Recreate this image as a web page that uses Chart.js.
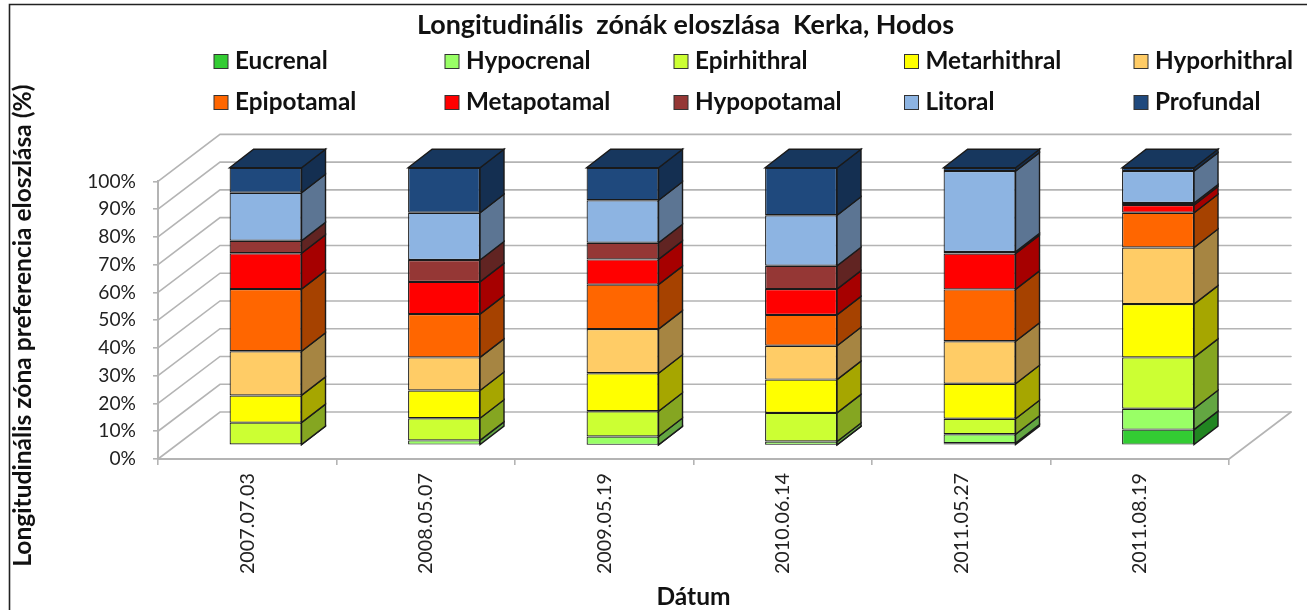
<!DOCTYPE html>
<html>
<head>
<meta charset="utf-8">
<style>
html,body{margin:0;padding:0;background:#fff;overflow:hidden}
#wrap{position:relative;width:1307px;height:610px}
canvas{display:block;filter:blur(0.4px)}
</style>
<script src="https://cdn.jsdelivr.net/npm/chart.js@4/dist/chart.umd.min.js"></script>
</head>
<body>
<div id="wrap"><canvas id="c" width="1307" height="610"></canvas></div>
<script>
const categories = ['2007.07.03','2008.05.07','2009.05.19','2010.06.14','2011.05.27','2011.08.19'];
const Eucrenal     = [0,    0,    0.2,  0.2,  0.8,  5.7];
const Hypocrenal   = [0.3,  1.8,  3.0,  1.2,  3.2,  7.5];
const Epirhithral  = [7.9,  8.0,  9.1,  10.3, 5.6,  18.5];
const Metarhithral = [9.8,  10.0, 13.7, 12.0, 12.6, 19.2];
const Hyporhithral = [15.9, 11.9, 15.9, 12.2, 15.3, 20.4];
const Epipotamal   = [22.4, 15.6, 16.0, 11.1, 18.7, 12.5];
const Metapotamal  = [12.9, 11.6, 9.1,  9.3,  12.9, 2.8];
const Hypopotamal  = [4.5,  7.9,  6.0,  8.4,  0.6,  0.7];
const Litoral      = [17.3, 17.0, 15.3, 18.2, 29.1, 11.5];
const Profundal    = [9.0,  16.2, 11.7, 17.1, 1.2,  1.2];
const seriesNames  = ['Eucrenal','Hypocrenal','Epirhithral','Metarhithral','Hyporhithral','Epipotamal','Metapotamal','Hypopotamal','Litoral','Profundal'];
const seriesValues = [Eucrenal,Hypocrenal,Epirhithral,Metarhithral,Hyporhithral,Epipotamal,Metapotamal,Hypopotamal,Litoral,Profundal];
const seriesColors = ['#33CC33','#99FF66','#CCFF33','#FFFF00','#FFCC66','#FF6600','#FF0000','#953735','#8DB4E2','#1F497D'];
const titleText = 'Longitudinális  zónák eloszlása  Kerka, Hodos';
const yTitle = 'Longitudinális zóna preferencia eloszlása (%)';
const xTitle = 'Dátum';

const FONT = 'Lato, Carlito, "Open Sans", sans-serif';
const GRID = '#b4b4b4';
// 3D geometry
const WALL = {dx:62, dy:47};      // depth of the back wall
const BAR_OFF = {dx:18.3, dy:13.6}; // bars stand inside the floor
const BAR_D = {dx:24, dy:18.5};   // depth of a bar
const LEG_X = [213.5,444.5,673.5,904,1133.5];
const LEG_Y = [61.5,102.5];

function shade(hex,f){
  const n=parseInt(hex.slice(1),16);
  const c=[n>>16&255,n>>8&255,n&255].map(v=>Math.round(v*f));
  return 'rgb('+c.join(',')+')';
}
function poly(ctx,pts,fill,stroke){
  ctx.beginPath();
  pts.forEach((p,i)=>i?ctx.lineTo(p[0],p[1]):ctx.moveTo(p[0],p[1]));
  ctx.closePath();
  ctx.fillStyle=fill;ctx.fill();
  ctx.strokeStyle=stroke;ctx.lineWidth=1.4;ctx.stroke();
}

const scene3d = {
  id:'scene3d',
  afterLayout(chart){
    // title is centred over the right-hand part of the frame
    chart.titleBlock.left = 64;
    chart.titleBlock.right = chart.width;
    const y = chart.scales.y;
    if(!y._shifted){
      const orig = y.drawTitle;
      y.drawTitle = function(){
        const c=this.ctx;c.save();c.translate(0,5.5);orig.call(this);c.restore();
      };
      y._shifted = true;
    }
  },
  beforeDraw(chart){
    const c=chart.ctx;
    c.save();
    c.fillStyle='#fff';c.fillRect(0,0,chart.width,chart.height);
    c.strokeStyle='#222';c.lineWidth=1.6;
    c.beginPath();c.moveTo(9.5,chart.height+2);c.lineTo(9.5,4.5);c.lineTo(chart.width+2,4.5);c.stroke();
    c.restore();
  },
  beforeDatasetsDraw(chart){
    const c=chart.ctx,{x,y}=chart.scales,a=chart.chartArea;
    c.save();
    c.strokeStyle=GRID;c.lineWidth=1.6;c.lineCap='round';
    y.ticks.forEach((t,i)=>{
      const py=y.getPixelForTick(i);
      c.beginPath();
      c.moveTo(a.left,py);
      c.lineTo(a.left+WALL.dx,py-WALL.dy);
      c.lineTo(a.right+WALL.dx,py-WALL.dy);
      c.stroke();
    });
    c.beginPath();
    c.moveTo(a.right,a.bottom);
    c.lineTo(a.right+WALL.dx,a.bottom-WALL.dy);
    c.stroke();
    c.restore();
    // bars: side and top faces, the library then paints the front faces in the same shifted frame
    c.save();
    c.translate(BAR_OFF.dx,-BAR_OFF.dy);
    const metas=chart.getSortedVisibleDatasetMetas();
    metas.forEach(m=>{
      const col=chart.data.datasets[m.index].backgroundColor;
      m.data.forEach((b,j)=>{
        const v=chart.data.datasets[m.index].data[j];
        if(!v) return;
        const r=b.x+b.width/2;
        poly(c,[[r,b.y],[r+BAR_D.dx,b.y-BAR_D.dy],[r+BAR_D.dx,b.base-BAR_D.dy],[r,b.base]],shade(col,0.65),'#1a1a1a');
      });
    });
    categories.forEach((_,j)=>{
      for(let k=metas.length-1;k>=0;k--){
        const ds=chart.data.datasets[metas[k].index];
        if(ds.data[j]){
          const b=metas[k].data[j],l=b.x-b.width/2,r=b.x+b.width/2;
          poly(c,[[l,b.y],[l+BAR_D.dx,b.y-BAR_D.dy],[r+BAR_D.dx,b.y-BAR_D.dy],[r,b.y]],shade(ds.backgroundColor,0.75),'#1a1a1a');
          break;
        }
      }
    });
  },
  afterDatasetsDraw(chart){
    chart.ctx.restore();
    const c=chart.ctx;
    c.save();
    c.font='bold 24.3px '+FONT;
    c.textBaseline='middle';
    chart.data.datasets.forEach((ds,i)=>{
      const px=LEG_X[i%5],py=LEG_Y[Math.floor(i/5)];
      c.fillStyle=ds.backgroundColor;c.strokeStyle='#333';c.lineWidth=1;
      c.fillRect(px+.5,py-7,14,14);c.strokeRect(px+.5,py-7,14,14);
      c.fillStyle='#111';
      c.fillText(ds.label,px+21.5,py);
    });
    c.restore();
  }
};

new Chart(document.getElementById('c'),{
  type:'bar',
  data:{
    labels:categories,
    datasets:seriesNames.map((n,i)=>({
      label:n,data:seriesValues[i],backgroundColor:seriesColors[i],
      borderColor:'#1a1a1a',borderWidth:1.2,borderSkipped:false,
      categoryPercentage:1,barPercentage:0.403,clip:false
    }))
  },
  plugins:[scene3d],
  options:{
    responsive:false,animation:false,
    layout:{padding:{left:8,right:78,top:0,bottom:0}},
    plugins:{
      legend:{display:false},
      tooltip:{enabled:false},
      title:{display:true,text:titleText,color:'#111',
        font:{family:FONT,size:26.9,weight:'bold',lineHeight:1.2},
        padding:{top:9,bottom:140.1}}
    },
    scales:{
      x:{
        stacked:true,
        afterFit(s){s.height=151;},
        grid:{drawOnChartArea:false,offset:true,tickLength:6,color:GRID,lineWidth:1.6},
        border:{color:GRID,width:2},
        ticks:{color:'#222',font:{family:FONT,size:19.8},minRotation:90,maxRotation:90,padding:8,autoSkip:false},
        title:{display:true,text:xTitle,color:'#111',font:{family:FONT,size:24.5,weight:'bold'},padding:{top:0,bottom:-2}}
      },
      y:{
        stacked:true,min:0,max:100,
        afterFit(s){s.width=150;},
        grid:{drawOnChartArea:false,tickLength:5,color:GRID,lineWidth:1.6},
        border:{color:GRID,width:2},
        ticks:{stepSize:10,color:'#222',font:{family:FONT,size:19.2},padding:17,callback:v=>v+'%'},
        title:{display:true,text:yTitle,color:'#111',font:{family:FONT,size:24.6,weight:'bold'},padding:{top:0,bottom:0}}
      }
    }
  }
});
</script>
</body>
</html>
